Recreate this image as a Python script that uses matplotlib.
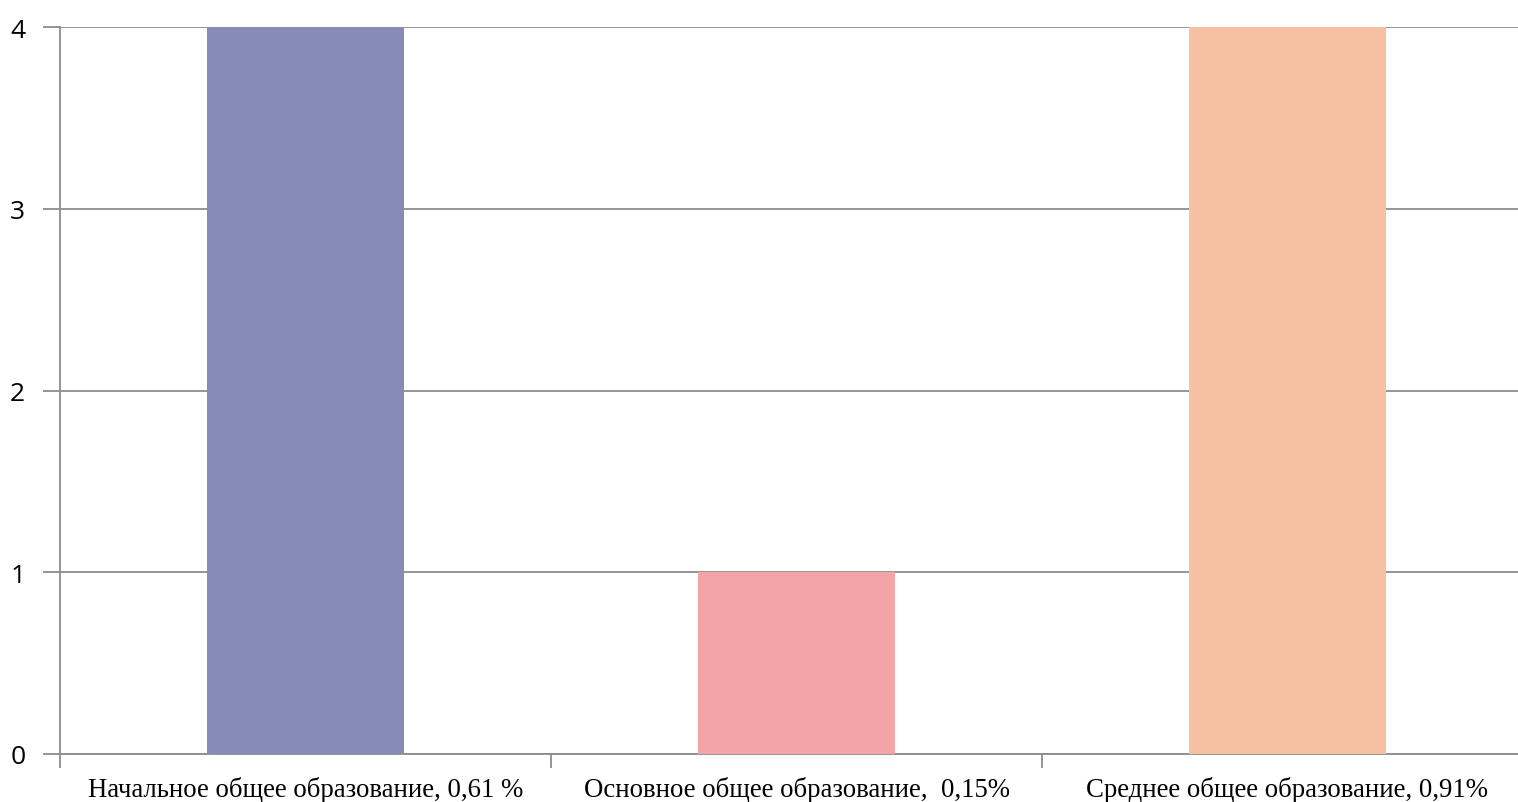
import matplotlib.pyplot as plt
import numpy as np

categories = ["Начальное общее образование, 0,61 %",
              "Основное общее образование,  0,15%",
              "Среднее общее образование, 0,91%"]
values = [4, 1, 4]
colors = ["#878bb7", "#f3a4a6", "#f6c1a2"]
yticks = [0, 1, 2, 3, 4]

fig = plt.figure(figsize=(15.18, 8.03), dpi=100)
W, H = 1518, 803
ax = fig.add_axes([60 / W, 1 - 755 / H, 1473 / W, (755 - 28) / H])

x = np.arange(len(categories))
ax.bar(x, values, width=0.4, color=colors, zorder=3)

ax.set_xlim(-0.5, 2.5)
ax.set_ylim(0, 4)
ax.set_yticks(yticks)
ax.set_yticklabels([str(t) for t in yticks], fontsize=19, family="Open Sans")
ax.yaxis.grid(True, color="#8c8c8c", linewidth=1.3, zorder=0)

# category labels between boundary ticks
ax.set_xticks([-0.5, 0.5, 1.5, 2.5])
ax.set_xticklabels([])
ax.set_xticks(x, minor=True)
ax.set_xticklabels(categories, minor=True, fontsize=19.3, family="Liberation Serif")
ax.tick_params(axis="x", which="minor", length=0, pad=16)
ax.tick_params(axis="x", which="major", length=10, width=1.3, color="#8c8c8c")
ax.tick_params(axis="y", length=12, width=1.3, color="#8c8c8c", pad=13)
for lbl in ax.get_yticklabels():
    lbl.set_y(lbl.get_position()[1])
    lbl.set_va("center_baseline")

for s in ["top", "right"]:
    ax.spines[s].set_visible(False)
ax.spines["left"].set_color("#8c8c8c")
ax.spines["left"].set_linewidth(1.3)
ax.spines["bottom"].set_color("#8c8c8c")
ax.spines["bottom"].set_linewidth(1.3)

fig.savefig("out.png", dpi=100)
